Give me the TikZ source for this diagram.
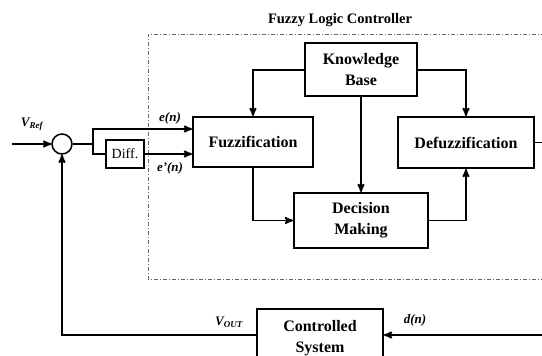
\documentclass[tikz,border=0pt]{standalone}
\usepackage{fontspec}
\setmainfont{Liberation Serif}
\usepackage{tikz}
\usetikzlibrary{arrows}
\usetikzlibrary{calc}
\tikzset{
  blk/.style={draw, line width=2pt, align=center, font=\fontsize{16}{21}\selectfont\bfseries, inner sep=0pt},
  arr/.style={line width=1.8pt, ->, >=stealth'},
  wire/.style={line width=1.8pt},
  sig/.style={font=\fontsize{13}{15}\selectfont\bfseries\itshape, inner sep=1pt},
  flc/.style={gray!80!black, line width=.7pt, dash pattern=on 4pt off 2pt on 1pt off 2pt}
}

\begin{document}
\begin{tikzpicture}[x=1pt,y=-1pt]
\useasboundingbox (0,0) rectangle (542,356);
% fuzzy controller frame
\draw[flc] (545,34) -- (148,34) -- (148,279) -- (545,279);
\node[font=\fontsize{14.5}{16}\selectfont\bfseries] (title) at (340,20) {Fuzzy Logic Controller};
% blocks
\node[blk, minimum width=112, minimum height=53] (kb) at (361,69.5) {Knowledge\\Base};
\node[blk, minimum width=120, minimum height=50] (fuzz) at (253,142) {Fuzzification};
\node[blk, minimum width=136, minimum height=51] (defuzz) at (466,142.5) {Defuzzification};
\node[blk, minimum width=134, minimum height=55] (dm) at (361,220.5) {Decision\\Making};
\node[blk, minimum width=126, minimum height=58] (cs) at (320,338) {Controlled\\System};
\node[draw, line width=1.5pt, minimum width=38, minimum height=28, inner sep=0pt,
      font=\fontsize{14}{16}\selectfont] (diff) at (125,154) {Diff.};
\node[draw, circle, line width=1.5pt, minimum size=20, inner sep=0pt] (sum) at (62,144) {};
% free ends
\coordinate (vin) at (12,144);
\coordinate (split) at (93,144);
\coordinate (out) at (542,142.5);
\coordinate (dist) at (542,335);
% knowledge base links
\draw[arr] (kb.west |- 0,70) -| (fuzz.north);
\draw[arr] (kb.east |- 0,70) -| (defuzz.north);
\draw[arr] (kb.south) -- (dm.north);
\draw[arr] (fuzz.south) |- (dm.west);
\draw[arr] (dm.east) -| (defuzz.south);
\draw[wire] (defuzz.east) -- (out);
% error path
\draw[arr] (vin) -- (sum.west);
\draw[wire] (sum.east) -- (split);
\draw[arr] (split) |- (fuzz.west |- 0,129);
\draw[wire] (split) |- (diff.west);
\draw[arr] (diff.east) -- (fuzz.west |- diff.east);
% plant and feedback
\draw[arr] (dist) -- (cs.east |- dist);
\draw[arr] (cs.west |- dist) -| (sum.south);
% signal labels
\node[sig] (vref) at (32,124) {V\textsubscript{\fontsize{9}{9}\selectfont Ref}};
\node[sig] (en) at (170,118) {e(n)};
\node[sig] (edn) at (170,168) {e'(n)};
\node[sig] (vout) at (229,322) {V\textsubscript{\fontsize{9}{9}\selectfont OUT}};
\node[sig] (dn) at (415,320) {d(n)};
\end{tikzpicture}
\end{document}
